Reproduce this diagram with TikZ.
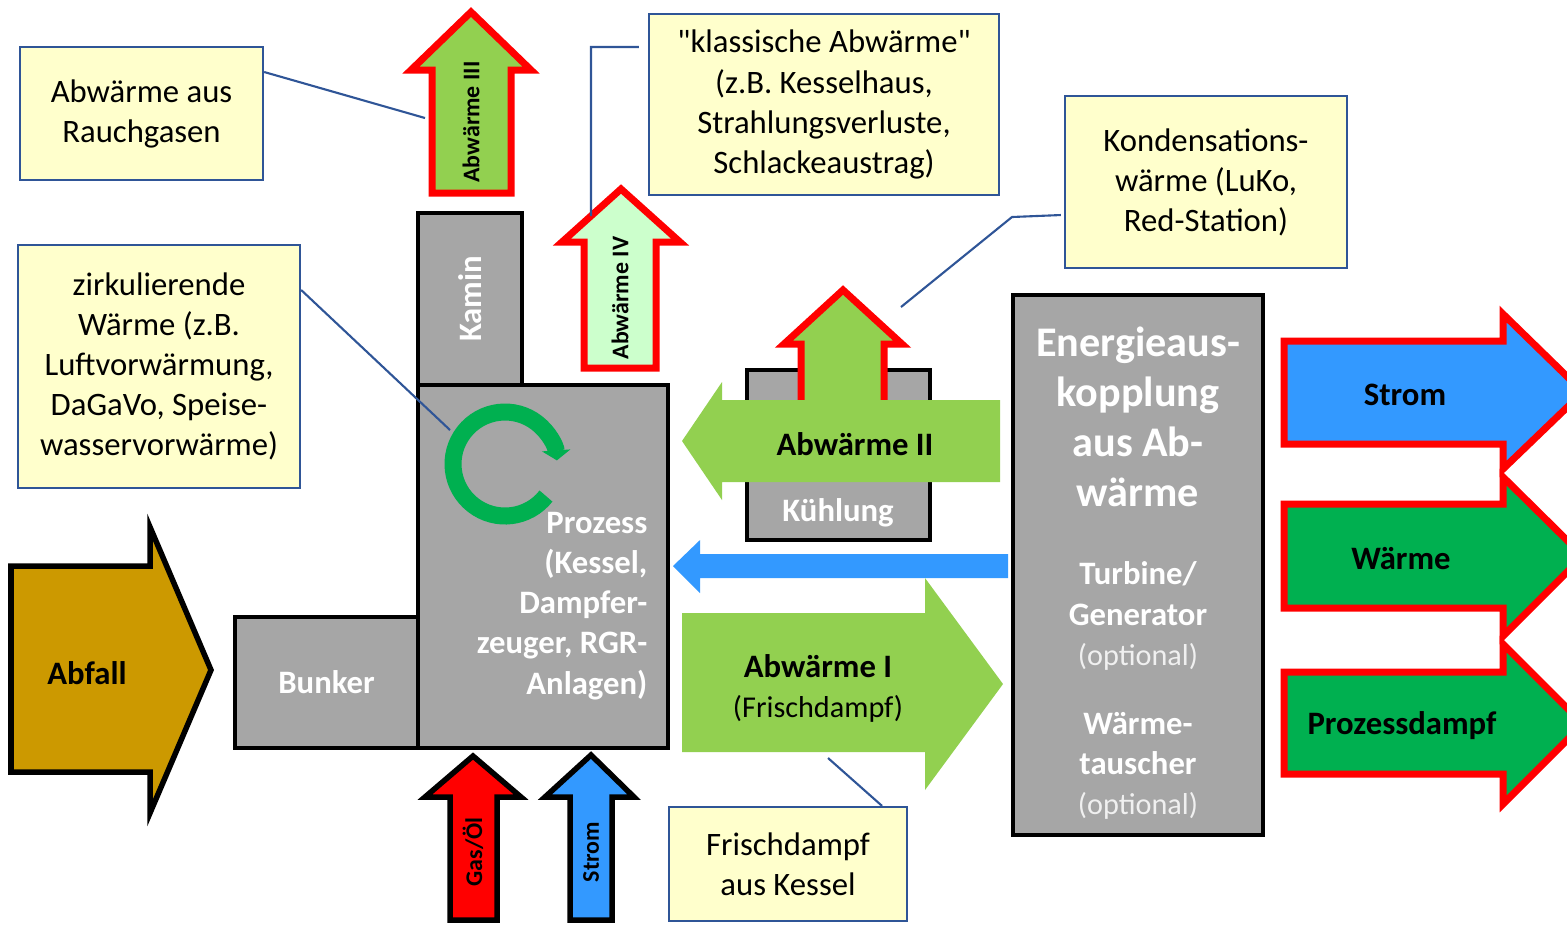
\documentclass[tikz,border=0pt]{standalone}
\usepackage{fontspec}
\setmainfont{Carlito}[Ligatures=TeXOff]
\usepackage{xcolor}
\usepackage{tikz}
\usetikzlibrary{arrows.meta}
\usetikzlibrary{calc}
\definecolor{blockgray}{HTML}{A6A6A6}
\definecolor{abfallgold}{HTML}{CC9900}
\definecolor{hellgruen}{HTML}{92D050}
\definecolor{blassgruen}{HTML}{CCFFCC}
\definecolor{stromblau}{HTML}{3399FF}
\definecolor{dunkelgruen}{HTML}{00B050}
\definecolor{notizgelb}{HTML}{FFFFCC}
\definecolor{notizrand}{HTML}{2F5597}
\tikzset{
  Block/.style={
    rectangle, inner sep=0pt,
    line width=0.04cm, draw=black, fill=blockgray,
    text=white, font=\fontsize{9.3}{11.4}\selectfont\bfseries,
  },
  BlockText/.style={text=white, inner sep=0pt, font=\fontsize{9.3}{11.4}\selectfont\bfseries},
  Notiz/.style={
    rectangle, inner sep=0pt, align=center,
    line width=0.6pt, draw=notizrand, fill=notizgelb,
    font=\fontsize{9.3}{11.4}\selectfont,
  },
  NotizLinie/.style={draw=notizrand, line width=0.6pt},
  RotPfeil/.style={draw=red, line width=0.07cm},
  SchwarzPfeil/.style={draw=black, line width=0.055cm},
  PfeilText/.style={inner sep=0pt, font=\fontsize{9.3}{11.4}\selectfont\bfseries},
  KleinText/.style={inner sep=0pt, rotate=90, font=\fontsize{6.8}{8}\selectfont\bfseries},
}
\newcommand{\optional}{{\fontsize{8.6}{11.4}\selectfont\mdseries(optional)}}

\begin{document}
\begin{tikzpicture}[x=0.01cm, y=-0.01cm]
\useasboundingbox (0,0) rectangle (1567,926);

% Anlage
\node[Block, minimum width=1.83cm, minimum height=1.31cm] (bunker) at (326.5,682.5) {Bunker};
\node[Block, minimum width=1.04cm, minimum height=1.72cm] (kamin) at (470,299) {};
\node[BlockText, rotate=90] (kamintext) at (kamin) {Kamin};
\node[Block, minimum width=2.5cm, minimum height=3.63cm] (prozess) at (543,566.5) {};
\node[BlockText, align=right, anchor=east] (prozesstext) at (648,606) {Prozess\\(Kessel,\\Dampfer-\\zeuger, RGR-\\Anlagen)};
\node[Block, minimum width=1.83cm, minimum height=1.7cm] (kuehlung) at (838.5,455) {};
\node[BlockText] (kuehltext) at (838,513) {Kühlung};
\node[Block, minimum width=2.5cm, minimum height=5.4cm] (energie) at (1138,565) {};
\node[BlockText, align=center, font=\fontsize{12}{14.2}\selectfont\bfseries] (energietitel) at (1138,417) {Energieaus-\\kopplung\\aus Ab-\\wärme};
\node[BlockText, align=center] (turbine) at (1138,616) {Turbine/\\Generator\\{\color{white!94!black}\optional}};
\node[BlockText, align=center] (tauscher) at (1138,766) {Wärme-\\tauscher\\{\color{white!94!black}\optional}};

% zirkulierende Waerme
\coordinate (kreis) at (505,464);
\draw[line width=0.17cm, draw=dunkelgruen, -{Triangle[width=0.28cm, length=0.1cm]}]
  ($(kreis)+(38:52)$) arc[start angle=38, end angle=356, radius=52];

% Eingaenge
\draw[SchwarzPfeil, fill=abfallgold] (11,566) -- (150,566) -- (150,527) -- (211,670) -- (150,813) -- (150,772) -- (11,772) -- cycle;
\node[PfeilText] (abfall) at (87,673) {Abfall};
\draw[SchwarzPfeil, fill=red] (450,920) -- (450,797) -- (425,797) -- (473,756) -- (521,797) -- (497,797) -- (497,920) -- cycle;
\node[KleinText] (gasoel) at (473,852) {Gas/Öl};
\draw[SchwarzPfeil, fill=stromblau] (570,920) -- (570,797) -- (545,797) -- (591,755) -- (634,797) -- (612,797) -- (612,920) -- cycle;
\node[KleinText] (stromein) at (591,852) {Strom};

% Abwaerme
\draw[RotPfeil, fill=hellgruen] (432,193) -- (432,70) -- (411,70) -- (471,12) -- (531,70) -- (511,70) -- (511,193) -- cycle;
\node[KleinText] (abw3) at (471,122) {Abwärme III};
\draw[RotPfeil, fill=blassgruen] (584,368) -- (584,242) -- (562,242) -- (621,189) -- (680,242) -- (656,242) -- (656,368) -- cycle;
\node[KleinText] (abw4) at (620,298) {Abwärme IV};
\draw[RotPfeil, fill=hellgruen] (801,420) -- (801,344) -- (784,344) -- (843,290) -- (902,344) -- (884,344) -- (884,420) -- cycle;
\fill[hellgruen] (1000,400) -- (722,400) -- (722,382) -- (682,441) -- (722,500) -- (722,482) -- (1000,482) -- cycle;
\node[PfeilText] (abw2) at (855,444) {Abwärme II};
\fill[stromblau] (1008,554) -- (700,554) -- (700,540) -- (673,566) -- (700,593) -- (700,578) -- (1008,578) -- cycle;
\fill[hellgruen] (682,613) -- (925,613) -- (925,578) -- (1003,684) -- (925,790) -- (925,752) -- (682,752) -- cycle;
\node[PfeilText, align=center] (abw1) at (818,688) {Abwärme I\\{\fontsize{8.6}{11.4}\selectfont\mdseries(Frischdampf)}};

% Ausgaenge
\draw[RotPfeil, fill=stromblau] (1284,341) -- (1503,341) -- (1503,314) -- (1583,392) -- (1503,469) -- (1503,444) -- (1284,444) -- cycle;
\node[PfeilText] (stromaus) at (1405,395) {Strom};
\draw[RotPfeil, fill=dunkelgruen] (1284,504) -- (1503,504) -- (1503,477) -- (1583,556) -- (1503,636) -- (1503,608) -- (1284,608) -- cycle;
\node[PfeilText] (waerme) at (1401,559) {Wärme};
\draw[RotPfeil, fill=dunkelgruen] (1284,672) -- (1503,672) -- (1503,644) -- (1583,724) -- (1503,804) -- (1503,774) -- (1284,774) -- cycle;
\node[PfeilText] (pdampf) at (1402,726) {Prozessdampf};

% Notizen
\node[Notiz, minimum width=2.43cm, minimum height=1.33cm] (rauch) at (141.5,113.5) {Abwärme aus\\Rauchgasen};
\node[Notiz, minimum width=2.82cm, minimum height=2.43cm] (zirk) at (159,366.5) {zirkulierende\\Wärme (z.B.\\Luftvorwärmung,\\DaGaVo, Speise-\\wasservorwärme)};
\node[Notiz, minimum width=3.5cm, minimum height=1.81cm] (klassisch) at (824,104.5) {"klassische Abwärme"\\(z.B. Kesselhaus,\\Strahlungsverluste,\\Schlackeaustrag)};
\node[Notiz, minimum width=2.82cm, minimum height=1.72cm] (kondens) at (1206,182) {Kondensations-\\wärme (LuKo,\\Red-Station)};
\node[Notiz, minimum width=2.38cm, minimum height=1.14cm] (frisch) at (788,864) {Frischdampf\\aus Kessel};

\draw[NotizLinie] ([yshift=4.15mm]rauch.east) -- (425,118);
\draw[NotizLinie] ([yshift=7.65mm]zirk.east) -- (450,430);
\draw[NotizLinie] ([xshift=-0.9mm, yshift=5.75mm]klassisch.west) -- (591,47) -- (591,216);
\draw[NotizLinie] ([xshift=-0.3mm, yshift=-3.3mm]kondens.west) -- (1012,217) -- (901,307);
\draw[NotizLinie] ([xshift=9.4mm]frisch.north) -- (828,758);

\end{tikzpicture}
\end{document}
